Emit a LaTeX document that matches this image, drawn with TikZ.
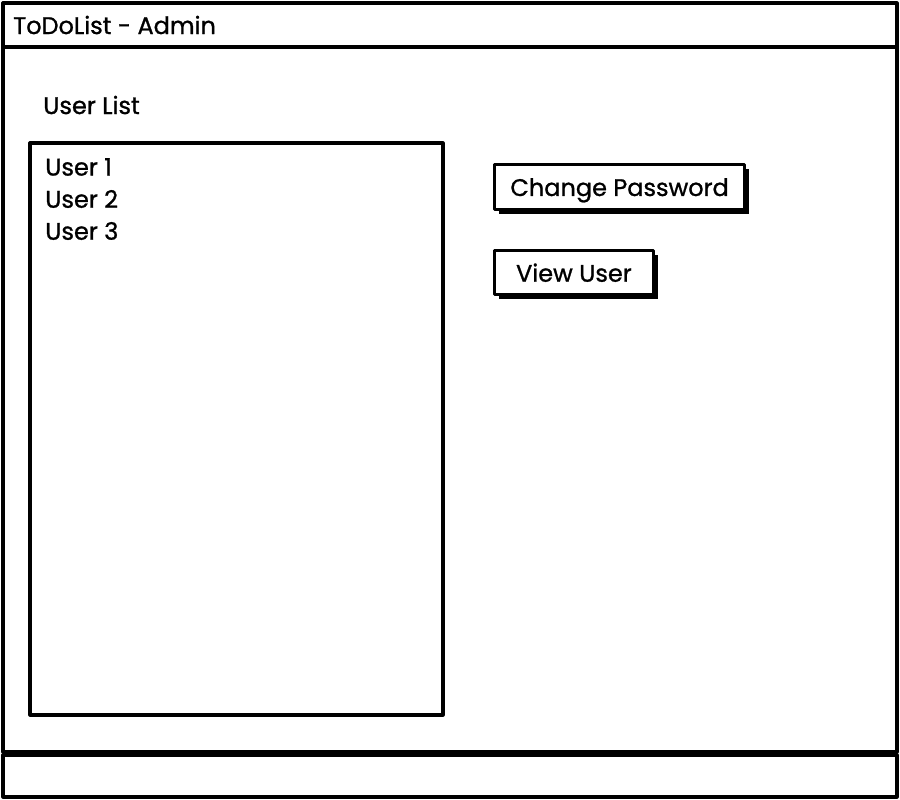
\documentclass[tikz,border=0pt]{standalone}
\usepackage{fontspec}
\setmainfont{Poppins}[FakeBold=1]
\usetikzlibrary{positioning,shadows}

\tikzset{
  frame/.style={draw,line width=2.4pt,line join=round},
  label/.style={anchor=west,inner sep=0pt,font=\fontsize{18pt}{21pt}\selectfont},
  button/.style={frame,fill=white,anchor=north west,inner sep=0pt,
    text depth=0pt,font=\fontsize{18pt}{21pt}\selectfont,
    drop shadow={shadow xshift=3.5pt,shadow yshift=-3.5pt,fill=black,opacity=1}},
}

\begin{document}
\begin{tikzpicture}[x=0.75pt,y=-0.75pt]
  \useasboundingbox (0,0) rectangle (900,800);
  % window with title bar and footer
  \draw[frame] (3,3) rectangle (897,752);
  \draw[frame] (3,47) -- (897,47);
  \draw[frame] (3,755) rectangle (897,797);
  \node[label] (title) at (13,25) {ToDoList - Admin};
  % user list
  \node[label] (listlabel) at (43,105) {User List};
  \draw[frame] (30,143) coordinate (listtop) rectangle (443,715);
  \node[label] (user1) at (45,167) {User 1};
  \node[label] (user2) at (45,199) {User 2};
  \node[label] (user3) at (45,231) {User 3};
  % buttons
  \node[button,minimum width=187.5pt,minimum height=33.75pt] (btnpass) at (493,163) {Change Password};
  \node[button,minimum width=119pt,minimum height=33pt] (btnview) at (493,249) {View User};
\end{tikzpicture}
\end{document}
